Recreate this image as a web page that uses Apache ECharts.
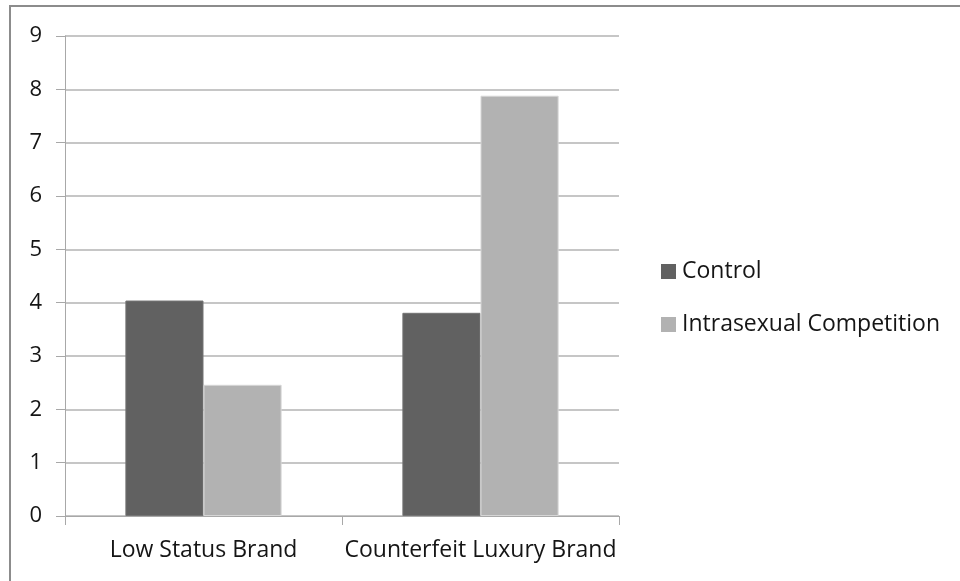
<!DOCTYPE html>
<html>
<head>
<meta charset="utf-8">
<script src="https://cdn.jsdelivr.net/npm/echarts@6/dist/echarts.min.js"></script>
<style>
  html, body { margin: 0; padding: 0; background: #fff; }
  #chart { width: 960px; height: 581px; }
</style>
</head>
<body>
<div id="chart"></div>
<script>
// Brand categories and mean scores per condition
const categories = ['Low Status Brand', 'Counterfeit Luxury Brand'];
const controlValues = [4.04, 3.81];
const competitionValues = [2.46, 7.88];
const seriesNames = ['Control', 'Intrasexual Competition'];
const yTicks = [0, 1, 2, 3, 4, 5, 6, 7, 8, 9];

const FONT = '"Open Sans", "Noto Sans", sans-serif';
const TEXT_COLOR = '#151515';
const chart = echarts.init(document.getElementById('chart'), null, { renderer: 'canvas' });

chart.setOption({
  backgroundColor: '#ffffff',
  animation: false,
  graphic: [{
    type: 'rect',
    shape: { x: 10, y: 6, width: 1000, height: 1000 },
    style: { fill: 'none', stroke: '#8c8c8c', lineWidth: 2 },
    silent: true
  }],
  grid: { left: 65, right: 341, top: 36, bottom: 65, containLabel: false },
  legend: {
    orient: 'vertical',
    left: 661,
    top: 260,
    padding: 0,
    itemWidth: 15,
    itemHeight: 15,
    itemGap: 30,
    icon: 'rect',
    data: seriesNames,
    itemStyle: { borderWidth: 0 },
    textStyle: { fontFamily: FONT, fontSize: 23, color: TEXT_COLOR, lineHeight: 22, padding: [0, 0, 0, 1] }
  },
  xAxis: {
    type: 'category',
    data: categories,
    axisLine: { show: true, lineStyle: { color: '#a8a8a8', width: 1 } },
    axisTick: { show: true, length: 9, alignWithLabel: false, lineStyle: { color: '#a8a8a8' } },
    axisLabel: { interval: 0, hideOverlap: false, margin: 23, fontFamily: FONT, fontSize: 23, color: TEXT_COLOR },
    splitLine: { show: false }
  },
  yAxis: {
    type: 'value',
    min: yTicks[0],
    max: yTicks[yTicks.length - 1],
    interval: 1,
    axisLine: { show: true, lineStyle: { color: '#a8a8a8', width: 1 } },
    axisTick: { show: true, length: 9, lineStyle: { color: '#a8a8a8' } },
    axisLabel: { margin: 23, fontFamily: FONT, fontSize: 22, color: TEXT_COLOR },
    splitLine: { show: true, lineStyle: { color: '#b3b3b3', width: 1.5 } }
  },
  series: [
    {
      name: seriesNames[0],
      type: 'bar',
      data: controlValues,
      barGap: '0%',
      barCategoryGap: '43.6%',
      itemStyle: { color: '#616161', borderColor: '#747474', borderWidth: 1 }
    },
    {
      name: seriesNames[1],
      type: 'bar',
      data: competitionValues,
      barGap: '0%',
      barCategoryGap: '43.6%',
      itemStyle: { color: '#b2b2b2', borderColor: '#d6d6d6', borderWidth: 1 }
    }
  ]
});
</script>
</body>
</html>
